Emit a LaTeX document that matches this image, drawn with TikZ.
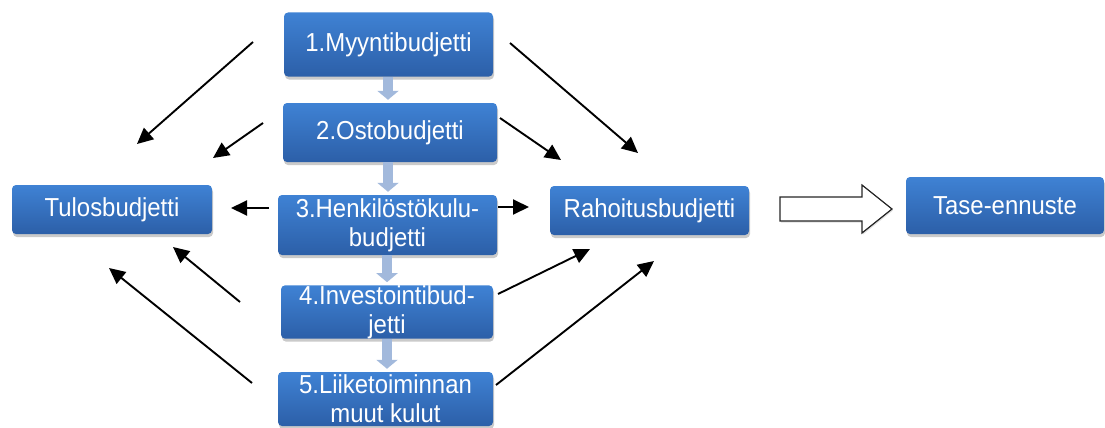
\documentclass[tikz,border=0pt]{standalone}
\usepackage{fontspec}
\setmainfont[FakeStretch=0.92]{Liberation Sans}
\usetikzlibrary{arrows.meta,shadows}
\definecolor{boxtop}{HTML}{3F82D4}
\definecolor{boxbot}{HTML}{2C5FA8}
\definecolor{dnarrow}{HTML}{A2B9DC}
\tikzset{
  bbox/.style={rounded corners=4pt, top color=boxtop, bottom color=boxbot,
    draw=none, inner sep=0pt, align=center, text=white,
    font=\fontsize{26}{29}\selectfont,
    drop shadow={shadow xshift=1pt, shadow yshift=-3pt, opacity=0.35, fill=black!60}},
  blk/.style={line width=1.9pt, draw=black,
    -{Triangle[length=16pt,width=15pt]}},
  dn/.style={line width=10pt, draw=dnarrow, shorten >=3pt,
    -{Triangle[length=9pt,width=21pt]}},
}
\begin{document}
\begin{tikzpicture}[x=1pt,y=-1pt]
\useasboundingbox (0,0) rectangle (1105,428);
% center column
\node[bbox, minimum width=209pt, minimum height=64pt] (b1) at (388.5,44.5) {1.Myyntibudjetti};
\node[bbox, minimum width=214pt, minimum height=59pt] (b2) at (390,132.5) {2.Ostobudjetti};
\node[bbox, minimum width=219pt, minimum height=60pt] (b3) at (387.5,225) {3.Henkilöstökulu-\\budjetti};
\node[bbox, minimum width=212pt, minimum height=52pt] (b4) at (387,312) {4.Investointibud-\\jetti};
\node[bbox, minimum width=215pt, minimum height=54pt] (b5) at (385.5,399) {5.Liiketoiminnan\\muut kulut};
% side boxes
\node[bbox, minimum width=200pt, minimum height=49pt] (tulos) at (112,209.5) {Tulosbudjetti};
\node[bbox, minimum width=199pt, minimum height=49pt] (rah) at (649.5,210.5) {Rahoitusbudjetti};
\node[bbox, minimum width=198pt, minimum height=57pt] (tase) at (1005,205.5) {Tase-ennuste};
% small down arrows
\draw[dn] ([xshift=-0.5pt]b1.south) -- ([xshift=-0.5pt]b1.south |- b2.north);
\draw[dn] ([xshift=-2pt]b2.south) -- ([xshift=-2pt]b2.south |- b3.north);
\draw[dn] ([xshift=-0.5pt]b3.south) -- ([xshift=-0.5pt]b3.south |- b4.north);
\draw[dn] (b4.south) -- (b4.south |- b5.north);
% black arrow endpoints
\coordinate (a1s) at (253,42);  \coordinate (a1e) at (137,144);
\coordinate (a2s) at (263,123); \coordinate (a2e) at (213,158);
\coordinate (a3s) at (510,43);  \coordinate (a3e) at (638,153);
\coordinate (a4s) at (500,118); \coordinate (a4e) at (561,160);
\coordinate (a5s) at (498,207); \coordinate (a5e) at (529,207);
\coordinate (a6s) at (269,208); \coordinate (a6e) at (231,208);
\coordinate (a7s) at (240,302); \coordinate (a7e) at (173,247);
\coordinate (a8s) at (252,383); \coordinate (a8e) at (109,268);
\coordinate (a9s) at (498,294); \coordinate (a9e) at (590,249);
\coordinate (a10s) at (496,385); \coordinate (a10e) at (654,261);
\foreach \i in {1,...,10} {\draw[blk] (a\i s) -- (a\i e);}
% hollow block arrow
\draw[line width=1.2pt, draw=black!85, fill=white,
  drop shadow={shadow xshift=1pt, shadow yshift=-1.5pt, opacity=0.25}]
  (780,197) -- (862,197) -- (862,185) -- (892,209) -- (862,233) -- (862,221) -- (780,221) -- cycle;
\end{tikzpicture}
\end{document}
